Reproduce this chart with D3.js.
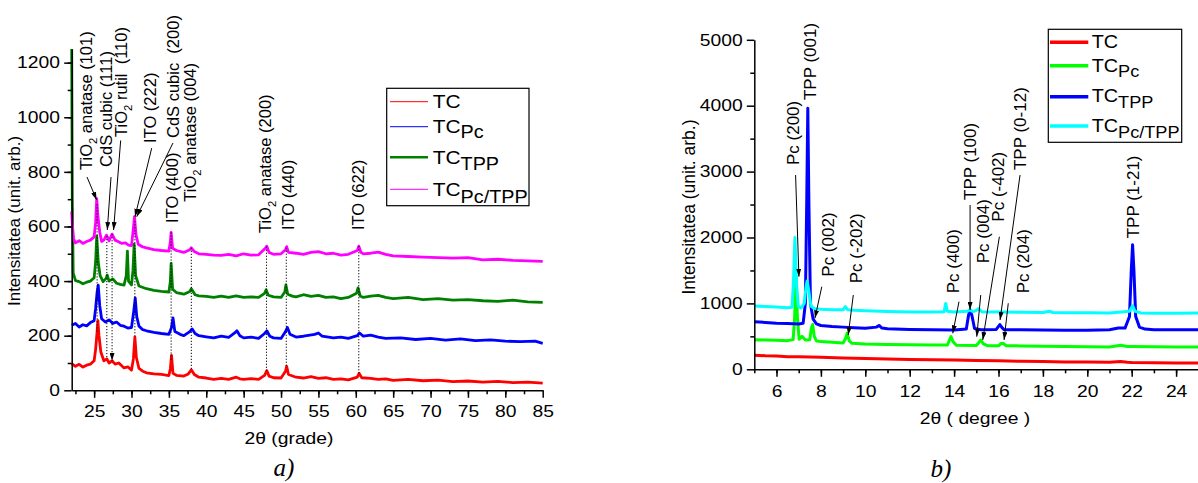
<!DOCTYPE html>
<html lang="ro">
<head>
<meta charset="UTF-8">
<title>XRD TC / TCPc / TCTPP / TCPc/TPP</title>
<script src="https://cdn.jsdelivr.net/npm/d3@7"></script>
<style>
  body { margin: 0; background: #fff; }
  svg text { font-family: "Liberation Sans", Arial, sans-serif; fill: #000; }
</style>
</head>
<body>
<script>
// ---------- panel a) : 2theta 22..85, [2theta, intensity]
var seriesNames = ['TC', 'TC_Pc', 'TC_TPP', 'TC_Pc/TPP']
var tcA = [[22,98],[22.5,88],[23,95],[23.5,85],[24,92],[24.5,96],[25,108],[25.2,150],[25.4,215],[25.5,255],[25.65,200],[25.9,140],[26.3,108],[26.7,115],[27,100],[27.4,108],[27.8,96],[28.3,100],[29,82],[29.5,86],[30,74],[30.25,115],[30.45,195],[30.65,120],[31,80],[31.5,70],[32,64],[33,60],[34,58],[35,54],[35.2,80],[35.35,128],[35.55,62],[36,55],[37,52],[37.6,60],[38,75],[38.4,58],[39,48],[40,45],[41,40],[42,44],[43,40],[44,48],[44.5,42],[45,40],[46,43],[47,40],[47.8,55],[48.1,72],[48.4,52],[49,46],[50,45],[50.6,70],[50.75,88],[51,58],[52,48],[53,45],[54,50],[55,44],[56,46],[57,40],[58,42],[59,38],[60.2,48],[60.45,62],[60.8,46],[62,44],[63,40],[64,42],[65,36],[67,40],[69,35],[71,37],[73,32],[75,34],[77,30],[79,33],[81,28],[83,30],[85,26]]
var tcPcA = [[22,238],[22.5,245],[23,232],[23.5,240],[24,236],[24.5,248],[25,255],[25.2,300],[25.4,360],[25.55,385],[25.75,310],[26,262],[26.5,250],[27,258],[27.5,245],[28,250],[28.5,238],[29,235],[29.5,228],[30,230],[30.3,290],[30.5,338],[30.7,270],[31,235],[31.5,222],[32,218],[33,212],[34,208],[35,205],[35.35,230],[35.55,265],[35.8,215],[36.5,205],[37,200],[37.8,215],[38.1,225],[38.5,208],[39,200],[40,196],[41,192],[42,198],[43,194],[43.8,210],[44.1,218],[44.5,200],[45,192],[46,195],[47,190],[47.8,208],[48.1,218],[48.5,198],[49,192],[50,190],[50.6,215],[50.85,230],[51.2,205],[52,195],[53,198],[54.5,205],[55,210],[55.5,198],[57,192],[58,195],[59,190],[60.2,200],[60.5,210],[61,198],[62,202],[63,195],[64,190],[66,192],[68,186],[70,190],[72,184],[74,188],[76,182],[78,185],[80,180],[82,178],[84,180],[85,172]]
var tcTppA = [[22,1250],[22.08,700],[22.2,430],[22.5,402],[23,398],[23.5,390],[24,396],[24.5,400],[25,412],[25.2,470],[25.35,565],[25.55,470],[25.8,420],[26.2,398],[26.6,410],[26.75,422],[27,400],[27.5,408],[28,392],[28.5,388],[29,385],[29.3,420],[29.45,510],[29.6,400],[30,386],[30.2,440],[30.35,535],[30.55,420],[31,382],[32,372],[33,366],[34,362],[35,360],[35.2,400],[35.3,465],[35.5,370],[36,358],[37,352],[37.8,362],[38,372],[38.5,350],[39,346],[40,344],[41,340],[42,345],[43,340],[44,346],[45,340],[46,342],[47,340],[47.8,355],[48,368],[48.3,348],[49,342],[50,340],[50.5,360],[50.65,386],[50.9,352],[51.5,345],[52,342],[53,350],[54,344],[55,348],[56,340],[57,342],[58,336],[59,340],[60.1,355],[60.3,375],[60.6,345],[61,340],[62,345],[63,348],[64,340],[65,336],[67,340],[69,332],[71,336],[73,330],[75,332],[77,328],[79,326],[81,330],[83,324],[85,322]]
var tcPcTppA = [[22,655],[22.1,600],[22.25,555],[22.5,540],[23,548],[23.5,538],[24,545],[24.5,550],[25,562],[25.2,615],[25.35,702],[25.5,640],[25.75,580],[26,545],[26.3,550],[26.65,568],[27,548],[27.4,572],[27.8,550],[28.2,545],[28.7,538],[29.2,540],[29.6,532],[30,530],[30.2,580],[30.4,636],[30.6,570],[30.9,535],[31.5,525],[32,522],[33,515],[34,512],[35,510],[35.2,545],[35.3,578],[35.5,520],[36,512],[37,505],[37.8,515],[38,522],[38.4,508],[39,500],[40,498],[41,495],[42,494],[43,498],[44,492],[45,500],[46,495],[47,496],[47.9,520],[48.1,528],[48.4,505],[49,498],[50,500],[50.6,515],[50.75,526],[51,505],[52,502],[53,498],[54,505],[55,508],[56,500],[57,502],[58,495],[59,498],[60.2,512],[60.4,528],[60.7,505],[61,500],[62,502],[63,506],[64,498],[65,492],[67,490],[69,488],[71,486],[73,484],[75,486],[77,478],[79,480],[81,476],[83,474],[85,472]]
var xTicksA = [25, 30, 35, 40, 45, 50, 55, 60, 65, 70, 75, 80, 85]
var yTicksA = [0, 200, 400, 600, 800, 1000, 1200]
var peakLinesA = [25.4, 26.7, 27.4, 30.45, 35.3, 38.0, 48.05, 50.7, 60.4]
// labels: text, label position (2theta, intensity at text start), optional arrow from/to
var labelsA = [
    {t: 'TiO_2 anatase (101)', x: 23.91, y: 807, from: [24.05, 781], to: [25.34, 697]},
    {t: 'CdS cubic (111)', x: 26.68, y: 818, from: [27.26, 781], to: [26.76, 587]},
    {t: 'TiO_2 rutil  (110)', x: 28.69, y: 928, from: [28.55, 915], to: [27.6, 587]},
    {t: 'ITO (222)', x: 32.47, y: 906, from: [32.7, 887], to: [30.47, 636]},
    {t: 'CdS cubic  (200)', x: 35.6, y: 924, from: [35.55, 906], to: [30.7, 636]},
    {t: 'ITO (400)', x: 35.38, y: 613},
    {t: 'TiO_2 anatase (004)', x: 37.83, y: 691},
    {t: 'TiO_2 anatase (200)', x: 47.86, y: 576},
    {t: 'ITO (440)', x: 50.93, y: 587},
    {t: 'ITO (622)', x: 60.3, y: 587}
]

// ---------- panel b) : 2theta 5..25
var tcB = [[5,215],[5.5,205],[6,200],[6.5,192],[7,190],[8,182],[9,170],[10,165],[11,158],[12,150],[13,145],[14,140],[15,132],[16,128],[17,122],[18,118],[19,112],[20,110],[21,106],[21.5,118],[21.8,108],[22,104],[23,100],[24,97],[25,95]]
var tcPcB = [[5,450],[5.5,445],[6,440],[6.5,435],[6.75,450],[6.82,800],[6.88,1420],[6.94,800],[7.02,455],[7.15,500],[7.3,445],[7.5,450],[7.57,620],[7.63,680],[7.7,500],[7.8,430],[8,420],[8.5,410],[9,400],[9.1,460],[9.18,545],[9.28,430],[9.4,395],[10,385],[11,378],[12,372],[13,368],[13.7,368],[13.8,450],[13.86,495],[13.95,420],[14.1,366],[15,360],[15.1,400],[15.2,445],[15.32,385],[15.5,358],[16,356],[16.12,392],[16.2,395],[16.35,358],[17,355],[18,348],[19,345],[20,342],[21,340],[21.5,365],[21.8,345],[22,345],[23,342],[24,340],[25,340]]
var tcTppB = [[5,720],[5.5,712],[6,700],[6.5,695],[7,688],[7.2,700],[7.3,1000],[7.36,2500],[7.41,3960],[7.46,2500],[7.53,1000],[7.65,760],[7.8,690],[8,665],[8.5,650],[9,640],[9.5,632],[10,622],[10.5,640],[10.62,665],[10.75,625],[11,615],[12,605],[13,600],[14,598],[14.55,612],[14.65,820],[14.72,900],[14.8,820],[14.92,620],[15.2,602],[15.9,605],[16.0,650],[16.06,680],[16.14,640],[16.25,600],[17,600],[18,596],[19,592],[20,592],[21,600],[21.4,628],[21.7,625],[21.9,800],[21.98,1500],[22.04,1890],[22.1,1500],[22.18,800],[22.35,640],[22.6,610],[23,600],[24,600],[25,602]]
var tcPcTppB = [[5,962],[5.5,952],[6,945],[6.5,935],[6.7,940],[6.76,1300],[6.83,2000],[6.9,1300],[6.98,960],[7.1,930],[7.25,1000],[7.33,1250],[7.38,1340],[7.45,1200],[7.55,960],[7.7,920],[8,912],[8.5,905],[9,902],[9.1,950],[9.2,905],[9.5,895],[10,890],[11,878],[12,870],[13,868],[13.55,872],[13.62,1000],[13.7,880],[14,870],[14.6,880],[14.72,905],[14.85,875],[15.0,895],[15.1,920],[15.25,875],[16,868],[17,866],[18,862],[18.3,882],[18.45,862],[19,860],[20,858],[21,856],[21.9,880],[22.04,965],[22.15,880],[22.4,856],[23,852],[24,850],[25,855]]
var xTicksB = [6, 8, 10, 12, 14, 16, 18, 20, 22, 24]
var yTicksB = [0, 1000, 2000, 3000, 4000, 5000]
var labelsB = [
    {t: 'Pc (200)', x: 6.73, y: 3100, from: [6.86, 2948], to: [7.01, 1405]},
    {t: 'TPP (001)', x: 7.51, y: 4086},
    {t: 'Pc (002)', x: 8.33, y: 1405, from: [8.04, 1253], to: [7.73, 774]},
    {t: 'Pc (-202)', x: 9.58, y: 1305, from: [9.46, 1127], to: [9.23, 520]},
    {t: 'Pc (400)', x: 13.96, y: 1153, from: [14.22, 1026], to: [13.94, 546]},
    {t: 'TPP (100)', x: 14.72, y: 2569, from: [14.72, 2493], to: [14.72, 900]},
    {t: 'Pc (004)', x: 15.32, y: 1608, from: [15.2, 1127], to: [15.02, 495]},
    {t: 'Pc (-402)', x: 15.99, y: 2240, from: [16.04, 2012], to: [15.29, 445]},
    {t: 'TPP (0-12)', x: 16.97, y: 3024, from: [16.97, 2948], to: [16.07, 748]},
    {t: 'Pc (204)', x: 17.09, y: 1153, from: [16.44, 1002], to: [16.25, 445]},
    {t: 'TPP (1-21)', x: 22.07, y: 1988}
]

var STRETCH = 'scale(1.17,1)'   // horizontal text in the original is a bit wide

var svg = d3.select('body').append('svg')
    .attr('width', 1198)
    .attr('height', 483)

svg.append('defs').append('marker')
    .attr('id', 'arrow')
    .attr('viewBox', '0 0 10 10')
    .attr('refX', 10).attr('refY', 5)
    .attr('markerWidth', 8).attr('markerHeight', 5)
    .attr('markerUnits', 'userSpaceOnUse')
    .attr('preserveAspectRatio', 'none')
    .attr('orient', 'auto')
    .append('path').attr('d', 'M0,0L10,5L0,10z').attr('fill', '#000')

// TiO_2 -> TiO with subscript 2
function richText(text, str, size) {
    var parts = str.split('_2')
    parts.forEach(function (p, i) {
        if (i > 0) {
            text.append('tspan').attr('font-size', size * 0.68).attr('dy', size * 0.3).text('2')
            text.append('tspan').attr('dy', -size * 0.3).text(p)
        } else {
            text.append('tspan').text(p)
        }
    })
}

function valueAt(series, t) {
    var i = d3.bisector(function (d) { return d[0] }).left(series, t)
    if (i <= 0) return series[0][1]
    if (i >= series.length) return series[series.length - 1][1]
    var a = series[i - 1], b = series[i]
    return a[1] + (b[1] - a[1]) * (t - a[0]) / (b[0] - a[0])
}

function axes(x, y, xt, xminor, yt, yminor, xpad, ypad) {
    var y0 = y.range()[0], x0 = x.range()[0]
    var fmt = d3.format('d')
    var gx = svg.append('g').attr('transform', 'translate(0,' + y0 + ')')
    gx.call(d3.axisBottom(x).tickValues(xminor).tickSize(4).tickFormat('').tickSizeOuter(0))
    gx.select('.domain').remove()
    var gx2 = svg.append('g').attr('transform', 'translate(0,' + y0 + ')')
        .call(d3.axisBottom(x).tickValues(xt).tickFormat(fmt).tickSize(7.5).tickPadding(xpad).tickSizeOuter(0))
    var gy = svg.append('g').attr('transform', 'translate(' + x0 + ',0)')
    gy.call(d3.axisLeft(y).tickValues(yminor).tickSize(4).tickFormat('').tickSizeOuter(0))
    gy.select('.domain').remove()
    var gy2 = svg.append('g').attr('transform', 'translate(' + x0 + ',0)')
        .call(d3.axisLeft(y).tickValues(yt).tickFormat(fmt).tickSize(7.5).tickPadding(ypad).tickSizeOuter(0))
    ;[gx, gx2, gy, gy2].forEach(function (g) {
        g.selectAll('line').attr('stroke', '#000').attr('stroke-width', 1.5)
        g.selectAll('.domain').attr('stroke', '#000').attr('stroke-width', 1.5)
        g.selectAll('text').attr('font-size', 16.5).attr('font-family', '"Liberation Sans", Arial, sans-serif')
            .attr('fill', '#000').attr('transform', STRETCH)
    })
}

function drawLabels(labels, x, y, size) {
    labels.forEach(function (l) {
        var g = svg.append('g')
            .attr('transform', 'translate(' + x(l.x) + ',' + y(l.y) + ') rotate(-90)')
        var t = g.append('text')
            .attr('y', size * 0.35)
            .attr('font-size', size)
            .style('white-space', 'pre')
        richText(t, l.t, size)
        if (l.from) {
            svg.append('line')
                .attr('x1', x(l.from[0])).attr('y1', y(l.from[1]))
                .attr('x2', x(l.to[0])).attr('y2', y(l.to[1]))
                .attr('stroke', '#000').attr('stroke-width', 1)
                .attr('marker-end', 'url(#arrow)')
        }
    })
}

function legend(box, rows, lineX, textX, lineW, fs, subFs) {
    svg.append('rect')
        .attr('x', box[0]).attr('y', box[1]).attr('width', box[2]).attr('height', box[3])
        .attr('fill', '#fff').attr('stroke', '#000').attr('stroke-width', 1.2)
    rows.forEach(function (r) {
        svg.append('line')
            .attr('x1', lineX[0]).attr('x2', lineX[1]).attr('y1', r.ly).attr('y2', r.ly)
            .attr('stroke', r.color).attr('stroke-width', r.w || lineW)
        var t = svg.append('text')
            .attr('transform', 'translate(' + textX + ',' + r.by + ') scale(1.1,1)')
            .attr('font-size', fs)
        var parts = r.name.split('_')
        t.append('tspan').text(parts[0])
        if (parts[1]) t.append('tspan').attr('font-size', subFs).attr('dy', r.sub).text(parts[1])
    })
}

// ================= panel a =================
var xA = d3.scaleLinear().domain([22, 85]).range([71.7, 542.7])
var yA = d3.scaleLinear().domain([0, 1250]).range([390.3, 49])
var lineA = d3.line().x(function (d) { return xA(d[0]) }).y(function (d) { return yA(d[1]) })

var colorsA = ['#ff0000', '#0000ff', '#008000', '#ff00ff']
var dataA = [tcA, tcPcA, tcTppA, tcPcTppA]

dataA.forEach(function (s, i) {
    svg.append('path')
        .attr('d', lineA(s))
        .attr('fill', 'none')
        .attr('stroke', colorsA[i])
        .attr('stroke-width', 2.8)
        .attr('stroke-linejoin', 'round')
})

peakLinesA.forEach(function (p) {
    var top = valueAt(tcPcTppA, p), bot = valueAt(tcA, p)
    svg.append('line')
        .attr('x1', xA(p)).attr('x2', xA(p))
        .attr('y1', yA(top)).attr('y2', yA(bot))
        .attr('stroke', '#000').attr('stroke-width', 1)
        .attr('stroke-dasharray', '1.2,1.8')
        .attr('marker-end', p === 27.4 ? 'url(#arrow)' : null)
})

drawLabels(labelsA, xA, yA, 16.5)

axes(xA, yA, xTicksA, d3.range(22.5, 85, 2.5), yTicksA, d3.range(100, 1250, 100), 7, 2.6)

svg.append('text')
    .attr('transform', 'translate(14,221) rotate(-90)')
    .attr('text-anchor', 'middle').attr('dy', '0.35em')
    .attr('font-size', 17)
    .text('Intensitatea (unit. arb.)')
svg.append('text')
    .attr('transform', 'translate(289,444) ' + STRETCH)
    .attr('text-anchor', 'middle')
    .attr('font-size', 16.5)
    .text('2θ (grade)')
svg.append('text')
    .attr('x', 284).attr('y', 476)
    .attr('text-anchor', 'middle')
    .attr('font-size', 25)
    .attr('font-style', 'italic')
    .style('font-family', '"Liberation Serif", "Times New Roman", serif')
    .text('a)')

legend([386.7, 88.3, 142.3, 117.4], [
    {name: seriesNames[0], color: colorsA[0], ly: 101.7, by: 108.3},
    {name: seriesNames[1], color: colorsA[1], ly: 126.7, by: 132.7, sub: 5},
    {name: seriesNames[2], color: colorsA[2], ly: 157.3, by: 164.3, sub: 5.5, w: 2.5},
    {name: seriesNames[3], color: colorsA[3], ly: 189.3, by: 196, sub: 6.5}
], [390, 428], 432.7, 1, 19, 18)

// ================= panel b =================
var xB = d3.scaleLinear().domain([5, 25]).range([754.3, 1198.3])
var yB = d3.scaleLinear().domain([0, 5000]).range([369.3, 39.8])
var lineB = d3.line().x(function (d) { return xB(d[0]) }).y(function (d) { return yB(d[1]) })

var colorsB = ['#ff0000', '#00ff00', '#0000ff', '#00ffff']
var dataB = [tcB, tcPcB, tcTppB, tcPcTppB]

dataB.forEach(function (s, i) {
    svg.append('path')
        .attr('d', lineB(s))
        .attr('fill', 'none')
        .attr('stroke', colorsB[i])
        .attr('stroke-width', 3)
        .attr('stroke-linejoin', 'round')
})

drawLabels(labelsB, xB, yB, 17)

axes(xB, yB, xTicksB, d3.range(5, 25.5, 1), yTicksB, d3.range(500, 5000, 1000), 8, 2.4)

svg.append('text')
    .attr('transform', 'translate(689,207) rotate(-90)')
    .attr('text-anchor', 'middle').attr('dy', '0.35em')
    .attr('font-size', 17.5)
    .text('Intensitatea (unit. arb.)')
svg.append('text')
    .attr('transform', 'translate(975,424) ' + STRETCH)
    .attr('text-anchor', 'middle')
    .attr('font-size', 16.5)
    .text('2θ ( degree )')
svg.append('text')
    .attr('x', 941).attr('y', 477)
    .attr('text-anchor', 'middle')
    .attr('font-size', 25)
    .attr('font-style', 'italic')
    .style('font-family', '"Liberation Serif", "Times New Roman", serif')
    .text('b)')

legend([1048.3, 29.3, 133.4, 113], [
    {name: seriesNames[0], color: colorsB[0], ly: 42.3, by: 48.3},
    {name: seriesNames[1], color: colorsB[1], ly: 65.7, by: 71.7, sub: 5.6},
    {name: seriesNames[2], color: colorsB[2], ly: 96.7, by: 102.3, sub: 6},
    {name: seriesNames[3], color: colorsB[3], ly: 126, by: 131.7, sub: 6}
], [1050, 1088.3], 1091.7, 3.5, 18, 16.5)
</script>
</body>
</html>
